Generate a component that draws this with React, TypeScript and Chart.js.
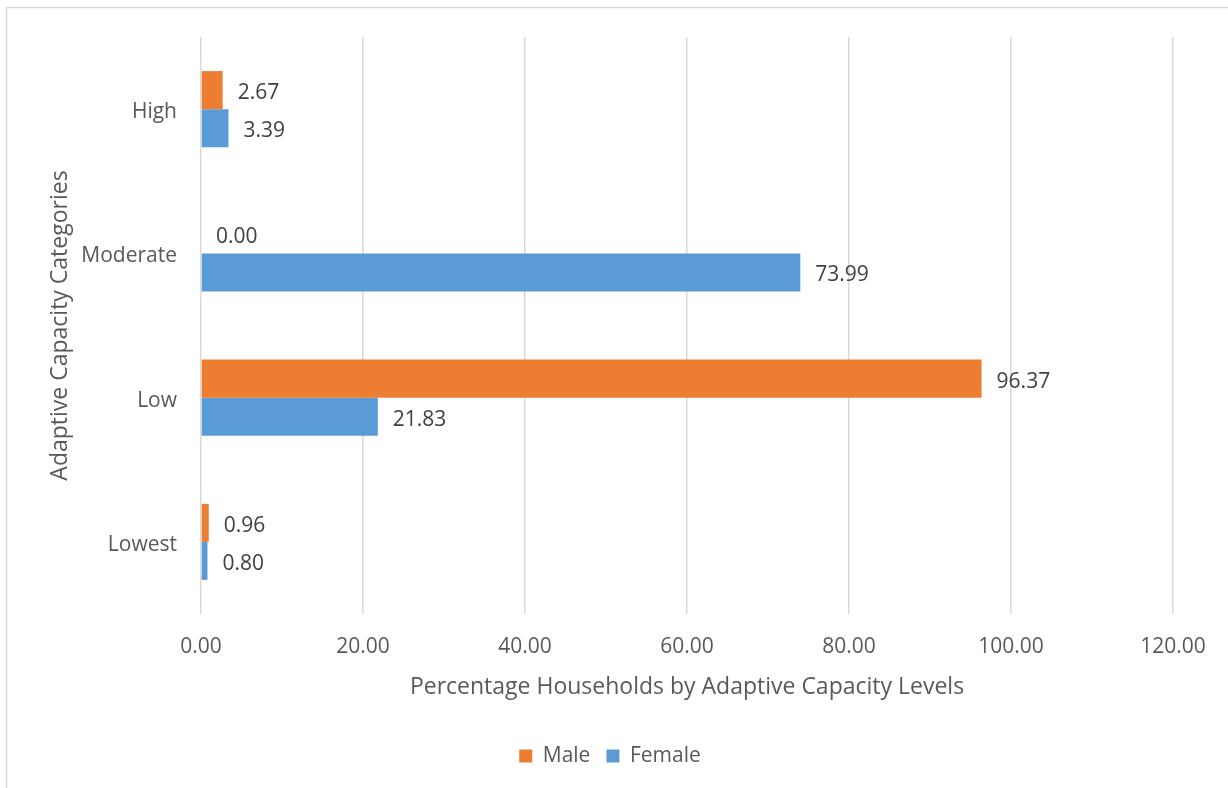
import React, { useEffect, useRef } from "react";
import { Chart, registerables } from "chart.js";

Chart.register(...registerables);

const categories = ["High", "Moderate", "Low", "Lowest"];
const maleValues = [2.67, 0.0, 96.37, 0.96];
const femaleValues = [3.39, 73.99, 21.83, 0.8];
const seriesNames = ["Male", "Female"];
const seriesColors = ["#ED7D31", "#5B9BD5"];
const xMin = 0;
const xMax = 120;
const xStep = 20;
const xTitle = "Percentage Households by Adaptive Capacity Levels";
const yTitle = "Adaptive Capacity Categories";

const FONT = '"Open Sans", "DejaVu Sans", sans-serif';

const dataLabelsPlugin = {
  id: "dataLabels",
  afterDatasetsDraw(chart: any) {
    const ctx = chart.ctx;
    ctx.save();
    ctx.font = `21px ${FONT}`;
    ctx.fillStyle = "#404040";
    ctx.textAlign = "left";
    ctx.textBaseline = "middle";
    chart.data.datasets.forEach((ds: any, i: number) => {
      const meta = chart.getDatasetMeta(i);
      meta.data.forEach((bar: any, j: number) => {
        const v = ds.data[j] as number;
        ctx.fillText(v.toFixed(2), bar.x + 15, bar.y + 3);
      });
    });
    ctx.restore();
  },
};

const framePlugin = {
  id: "frame",
  beforeDraw(chart: any) {
    const ctx = chart.ctx;
    ctx.save();
    ctx.fillStyle = "#ffffff";
    ctx.fillRect(0, 0, chart.width, chart.height);
    ctx.strokeStyle = "#D9D9D9";
    ctx.lineWidth = 1.5;
    ctx.beginPath();
    ctx.moveTo(6.5, chart.height);
    ctx.lineTo(6.5, 7.5);
    ctx.lineTo(chart.width, 7.5);
    ctx.stroke();
    ctx.restore();
  },
};

export default function App() {
  const canvasRef = useRef<HTMLCanvasElement | null>(null);

  useEffect(() => {
    document.body.style.margin = "0";
    const canvas = canvasRef.current;
    if (!canvas) return;
    const chart = new Chart(canvas, {
      type: "bar",
      data: {
        labels: categories,
        datasets: [
          {
            label: seriesNames[0],
            data: maleValues,
            backgroundColor: seriesColors[0],
            categoryPercentage: 0.527,
            barPercentage: 1,
          },
          {
            label: seriesNames[1],
            data: femaleValues,
            backgroundColor: seriesColors[1],
            categoryPercentage: 0.527,
            barPercentage: 1,
          },
        ],
      },
      options: {
        indexAxis: "y",
        responsive: false,
        animation: false,
        devicePixelRatio: 1,
        layout: { padding: { left: 47, top: 37, right: 55, bottom: 11.5 } },
        font: { family: FONT },
        scales: {
          x: {
            type: "linear",
            min: xMin,
            max: xMax,
            ticks: {
              stepSize: xStep,
              padding: 20,
              color: "#595959",
              font: { family: FONT, size: 21 },
              callback: (v: any) => Number(v).toFixed(2),
            },
            grid: { color: "#D9D9D9", lineWidth: 1.5, drawTicks: false },
            border: { display: false },
            title: {
              display: true,
              text: xTitle,
              color: "#595959",
              font: { family: FONT, size: 23 },
              padding: { top: 0, bottom: 28 },
            },
            afterFit: (scale: any) => {
              scale.height = 115.5;
            },
          },
          y: {
            type: "category",
            ticks: {
              padding: 24,
              labelOffset: 3,
              color: "#595959",
              font: { family: FONT, size: 21 },
            },
            grid: { display: false, drawTicks: false },
            border: { display: false },
            title: {
              display: true,
              text: yTitle,
              color: "#595959",
              font: { family: FONT, size: 23 },
              padding: 0,
            },
            afterFit: (scale: any) => {
              scale.width = 201 - 47;
            },
          },
        },
        plugins: {
          legend: {
            display: true,
            position: "bottom",
            labels: {
              boxWidth: 13,
              boxHeight: 13,
              padding: 16,
              color: "#595959",
              font: { family: FONT, size: 21 },
            },
          },
          tooltip: { enabled: false },
        },
      },
      plugins: [framePlugin, dataLabelsPlugin],
    } as any);
    return () => chart.destroy();
  }, []);

  return (
    <div style={{ width: 1228, height: 788, position: "relative" }}>
      <canvas ref={canvasRef} width={1228} height={788} />
    </div>
  );
}
